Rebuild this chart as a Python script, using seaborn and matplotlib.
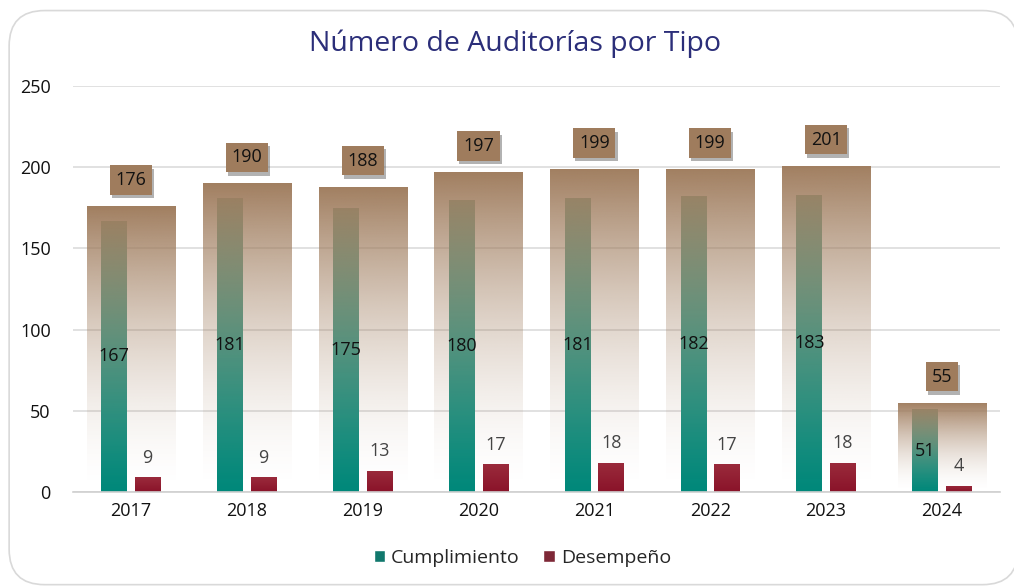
import numpy as np
import pandas as pd
import matplotlib.pyplot as plt
import matplotlib.patheffects as pe
import seaborn as sns
from matplotlib.colors import to_rgb
from matplotlib.patches import FancyBboxPatch

# Data
years = ['2017', '2018', '2019', '2020', '2021', '2022', '2023', '2024']
cumplimiento = [167, 181, 175, 180, 181, 182, 183, 51]
desempeno = [9, 9, 13, 17, 18, 17, 18, 4]
totales = [176, 190, 188, 197, 199, 199, 201, 55]

TEAL = '#00897a'
RED = '#8c1a2e'
BROWN = '#9f7c5d'
NAVY = '#2b2e79'

sns.set_theme(style='white')
plt.rcParams['font.family'] = ['Open Sans', 'DejaVu Sans']

fig = plt.figure(figsize=(10.14, 5.87), dpi=100)
ax = fig.add_axes([0.072, 0.1618, 0.914, 0.6917])

# Card border
card = FancyBboxPatch((0.009, 0.004), 0.995, 0.978, boxstyle='round,pad=0,rounding_size=0.035',
                      transform=fig.transFigure, facecolor='white', edgecolor='#d9d9d9',
                      linewidth=1.2, zorder=-10, mutation_aspect=1014 / 587)
fig.patches.append(card)

df = pd.DataFrame({'year': years * 2,
                   'valor': cumplimiento + desempeno,
                   'tipo': ['Cumplimiento'] * len(years) + ['Desempeño'] * len(years)})

# Series bars
sns.barplot(data=df, x='year', y='valor', hue='tipo', palette=[TEAL, RED],
            width=0.58, gap=0.24, dodge=True, ax=ax, zorder=2, errorbar=None)
sns.barplot(x=years, y=totales, color=BROWN, width=0.76, ax=ax, zorder=3, errorbar=None)

green_patches = ax.containers[0].patches
red_patches = ax.containers[1].patches
total_patches = ax.containers[2].patches

def grad_fill(patch, rgb_bottom, rgb_top, alpha_bottom, alpha_top, power=1.0, zorder=2):
    x0, y0 = patch.get_x(), patch.get_y()
    w, h = patch.get_width(), patch.get_height()
    t = np.linspace(0, 1, 256) ** power
    img = np.zeros((256, 1, 4))
    for i in range(3):
        img[:, 0, i] = rgb_bottom[i] + (rgb_top[i] - rgb_bottom[i]) * np.linspace(0, 1, 256)
    img[:, 0, 3] = alpha_bottom + (alpha_top - alpha_bottom) * t
    im = ax.imshow(img, extent=[x0, x0 + w, y0, y0 + h], origin='lower',
                   aspect='auto', interpolation='bilinear', zorder=zorder)
    im.set_clip_path(patch)
    patch.set_facecolor('none')
    patch.set_edgecolor('none')

for p in green_patches:
    grad_fill(p, to_rgb('#00887a'), to_rgb('#72ab98'), 1, 1, zorder=2)
for p in red_patches:
    grad_fill(p, to_rgb('#8a1329'), to_rgb('#9a2b3c'), 1, 1, zorder=2)
for p in total_patches:
    grad_fill(p, to_rgb(BROWN), to_rgb(BROWN), 0.0, 0.98, power=1.7, zorder=3)

ax.set_xlim(-0.5, len(years) - 0.5)
ax.set_ylim(0, 250)
ax.set_yticks(range(0, 251, 50))
ax.yaxis.grid(True, color='#dcdcdc', linewidth=1.2, zorder=0)
ax.set_axisbelow(True)
for s in ['top', 'right', 'left']:
    ax.spines[s].set_visible(False)
ax.spines['bottom'].set_color('#d0d0d0')
ax.spines['bottom'].set_linewidth(1.2)
ax.spines['bottom'].set_zorder(5)
ax.set_xlabel('')
ax.set_ylabel('')
ax.tick_params(axis='y', length=0, labelsize=13, pad=16, labelcolor='#111111')
ax.set_xticks(np.arange(len(years)))
ax.set_xticklabels(years)
ax.tick_params(axis='x', length=0, labelsize=13, pad=7, labelcolor='#111111')
# category separators
ax.set_xticks(np.arange(-0.5, len(years), 1), minor=True)
ax.tick_params(axis='x', which='minor', length=6, color='#d0d0d0', width=1.2)

# Labels
for p, v in zip(green_patches, cumplimiento):
    ax.text(p.get_x() + p.get_width() / 2, v / 2, str(v), ha='center', va='center',
            fontsize=13, color='#111111', zorder=6)
for p, v in zip(red_patches, desempeno):
    ax.text(p.get_x() + p.get_width() / 2, v + 12, str(v), ha='center', va='center',
            fontsize=13, color='#444444', zorder=6)
for p, v in zip(total_patches, totales):
    cx = p.get_x() + p.get_width() / 2
    t = ax.text(cx, v + 16, str(v), ha='center', va='center', fontsize=13, color='#111111',
                zorder=6, bbox=dict(boxstyle='square,pad=0.32', facecolor=BROWN, edgecolor='none'))
    t.get_bbox_patch().set_path_effects([
        pe.SimplePatchShadow(offset=(1.5, -2.5), shadow_rgbFace='#555555', alpha=0.45), pe.Normal()])

# Title
fig.text(0.508, 0.925, 'Número de Auditorías por Tipo', ha='center', va='center',
         fontsize=20.5, color=NAVY)

# Legend
handles, labels = ax.get_legend_handles_labels()
ax.get_legend().remove()
fig.legend(handles[:2], ['Cumplimiento', 'Desempeño'], loc='center', bbox_to_anchor=(0.515, 0.05),
           ncol=2, frameon=False, fontsize=14, handlelength=0.6, handleheight=0.6,
           handletextpad=0.3, columnspacing=1.2)

plt.savefig('out.png', dpi=100)
